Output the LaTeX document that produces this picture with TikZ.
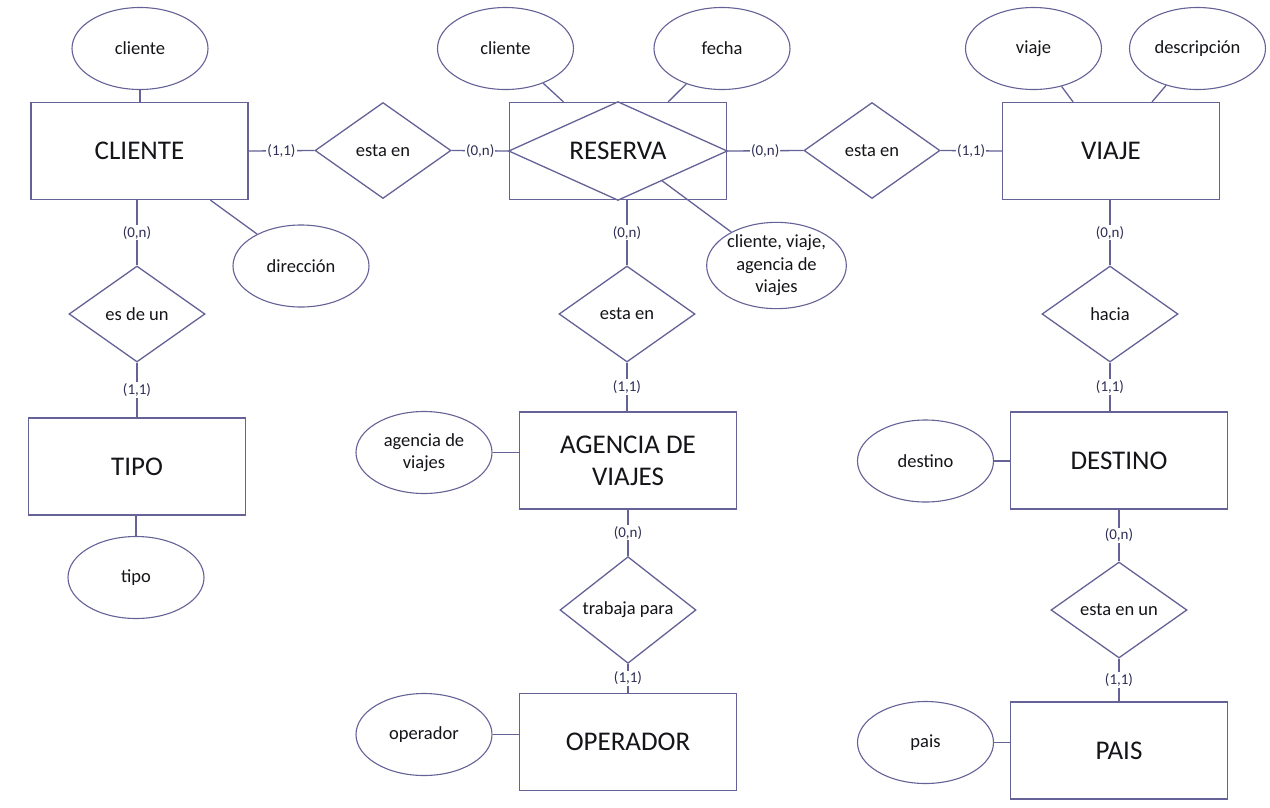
\documentclass[tikz,border=0pt]{standalone}
\usepackage{fontspec}
\setmainfont{Carlito}
\usetikzlibrary{shapes.geometric,calc}
\definecolor{edge}{RGB}{100,98,150}
\definecolor{ink}{RGB}{20,20,25}
\definecolor{cardink}{RGB}{45,45,85}

\begin{document}
\begin{tikzpicture}[x=1pt,y=-1pt,
  entity/.style={draw=edge,line width=1.3pt,minimum width=217pt,minimum height=97pt,
    inner sep=0pt,text=ink,font=\fontsize{27}{32}\selectfont,align=center},
  attr/.style={ellipse,draw=edge,line width=1.1pt,minimum width=136pt,minimum height=82pt,
    inner sep=0pt,text=ink,font=\fontsize{18.5}{22.5}\selectfont,align=center},
  rel/.style={diamond,draw=edge,line width=1.3pt,minimum width=136pt,minimum height=96pt,
    inner sep=0pt,text=ink,font=\fontsize{18.5}{20}\selectfont},
  link/.style={draw=edge,line width=1.3pt},
  card/.style={fill=white,inner sep=1pt,text=cardink,font=\fontsize{15}{17}\selectfont},
]
\useasboundingbox[fill=white] (0,0) rectangle (1270,807);

% ---- entities ----
\node[entity] (cli)  at (139.5,151)   {CLIENTE};
\node[entity] (res)  at (618,151)     {RESERVA};
\node[entity] (via)  at (1111,151)    {VIAJE};
\node[entity] (tipo) at (137,466.5)   {TIPO};
\node[entity] (age)  at (628,460.5)   {AGENCIA DE\\VIAJES};
\node[entity] (op)   at (628,742)     {OPERADOR};
\node[entity] (des)  at (1119,460.5)  {DESTINO};
\node[entity] (pais) at (1119,750.5)  {PAIS};

% weak entity: diamond inscribed in the rectangle
\draw[link] (res.west) -- (res.north) -- (res.east) -- (res.south) -- cycle;

% ---- attributes ----
\node[attr] (cliA)  at (140,48.5)    {cliente};
\node[attr] (dir)   at (301,266)     {dirección};
\node[attr] (resA)  at (505.5,48.5)  {cliente};
\node[attr] (fec)   at (722,48.5)    {fecha};
\node[attr,minimum height=86pt] (cva) at (776.5,265.5) {cliente, viaje,\\agencia de\\viajes};
\node[attr] (viaA)  at (1033.5,48.5) {viaje};
\node[attr] (desc)  at (1197.5,48.5) {descripción};
\node[attr] (tipoA) at (136,577.5)   {tipo};
\node[attr] (ageA)  at (424,452.5)   {agencia de\\viajes};
\node[attr] (opA)   at (424,734.5)   {operador};
\node[attr] (desA)  at (925.5,461)   {destino};
\node[attr] (paisA) at (925.5,742.5) {pais};

% ---- relationships ----
\node[rel] (r1)   at (383,150.5)  {esta en};
\node[rel] (r2)   at (872,150.5)  {esta en};
\node[rel] (esde) at (137,314)    {es de un};
\node[rel] (r3)   at (627,314)    {esta en};
\node[rel] (trab) at (628,610)    {trabaja para};
\node[rel] (hac)  at (1110,314)   {hacia};
\node[rel] (enun) at (1119,610)   {esta en un};

% ---- attribute links ----
\draw[link] (cliA.south) -- (cliA.south |- cli.north);
\draw[link] ($(cli.south east)!0.175!(cli.south west)$) -- (dir);
\draw[link] ($(res.north west)!0.25!(res.north east)$) -- (resA);
\draw[link] ($(res.north west)!0.73!(res.north east)$) -- (fec);
\draw[link] ($(res.east)!0.6!(res.south)$) -- (cva);
\draw[link] ($(via.north west)!0.326!(via.north east)$) -- (viaA);
\draw[link] ($(via.north west)!0.688!(via.north east)$) -- (desc);
\draw[link] (tipoA.north) -- (tipoA.north |- tipo.south);
\draw[link] (ageA.east) -- (ageA.east -| age.west);
\draw[link] (opA.east) -- (opA.east -| op.west);
\draw[link] (desA.east) -- (desA.east -| des.west);
\draw[link] (paisA.east) -- (paisA.east -| pais.west);

% ---- relationship links with cardinalities ----
\draw[link] (cli.east) -- node[card] {(1,1)} (r1.west);
\draw[link] (r1.east) -- node[card] {(0,n)} (res.west);
\draw[link] (res.east) -- node[card] {(0,n)} (r2.west);
\draw[link] (r2.east) -- node[card] {(1,1)} (via.west);

\draw[link] (esde.north |- cli.south) -- node[card] {(0,n)} (esde.north);
\draw[link] (esde.south) -- node[card] {(1,1)} (esde.south |- tipo.north);

\draw[link] (r3.north |- res.south) -- node[card] {(0,n)} (r3.north);
\draw[link] (r3.south) -- node[card] {(1,1)} (r3.south |- age.north);
\draw[link] (trab.north |- age.south) -- node[card] {(0,n)} (trab.north);
\draw[link] (trab.south) -- node[card] {(1,1)} (trab.south |- op.north);

\draw[link] (hac.north |- via.south) -- node[card] {(0,n)} (hac.north);
\draw[link] (hac.south) -- node[card] {(1,1)} (hac.south |- des.north);
\draw[link] (enun.north |- des.south) -- node[card] {(0,n)} (enun.north);
\draw[link] (enun.south) -- node[card] {(1,1)} (enun.south |- pais.north);
\end{tikzpicture}
\end{document}
